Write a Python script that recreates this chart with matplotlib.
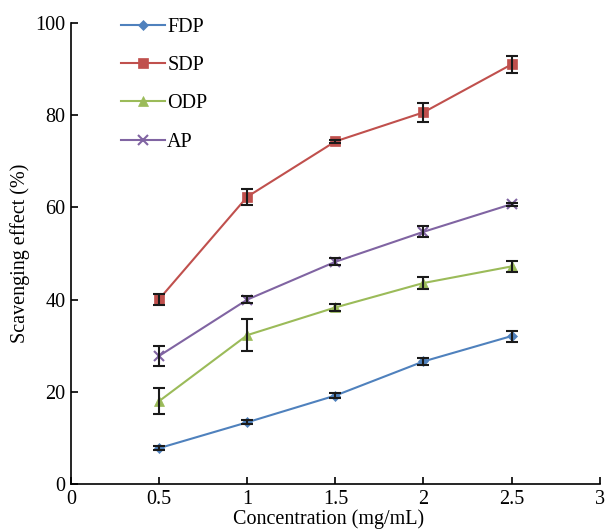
import matplotlib.pyplot as plt
import numpy as np
from matplotlib.ticker import FormatStrFormatter

plt.rcParams['font.family'] = ['Liberation Serif', 'DejaVu Serif']

conc = [0.5, 1, 1.5, 2, 2.5]

fdp = [7.8, 13.4, 19.2, 26.6, 32.1]
fdp_err = [0.4, 0.4, 0.5, 0.7, 1.2]
sdp = [40.1, 62.3, 74.3, 80.6, 91.0]
sdp_err = [1.2, 1.7, 0.3, 2.1, 1.8]
odp = [18.0, 32.3, 38.3, 43.6, 47.2]
odp_err = [2.8, 3.4, 0.8, 1.2, 1.2]
ap = [27.8, 40.0, 48.2, 54.7, 60.7]
ap_err = [2.1, 0.7, 0.8, 1.2, 0.3]

series = [
    ('FDP', fdp, fdp_err, '#4F81BD', 'D', 5),
    ('SDP', sdp, sdp_err, '#C0504D', 's', 6.5),
    ('ODP', odp, odp_err, '#9BBB59', '^', 7),
    ('AP', ap, ap_err, '#8064A2', 'x', 6.5),
]

fs = 14.5

fig = plt.figure(figsize=(6.07, 5.32), dpi=100)
ax = fig.add_axes([0.117, 0.090, 0.871, 0.867])

for name, vals, err, col, mk, ms in series:
    ax.plot(conc, vals, color=col, marker=mk, markersize=ms, lw=1.5,
            markeredgewidth=1.5 if mk == 'x' else 0.5, label=name, zorder=2)
    ax.errorbar(conc, vals, yerr=err, fmt='none', ecolor='#1a1a1a',
                elinewidth=1.5, capsize=4, capthick=1.5, zorder=3)

ax.set_xlim(0, 3)
ax.set_ylim(0, 100)
ax.set_xticks(np.arange(0, 3.01, 0.5))
ax.set_yticks(np.arange(0, 101, 20))
ax.xaxis.set_major_formatter(FormatStrFormatter('%g'))
ax.tick_params(direction='in', length=5, width=1.2, labelsize=fs, pad=4)
for s in ['top', 'right']:
    ax.spines[s].set_visible(False)
for s in ['left', 'bottom']:
    ax.spines[s].set_linewidth(1.2)

ax.set_xlabel('Concentration (mg/mL)', fontsize=fs)
ax.xaxis.set_label_coords(0.487, -0.055)
ax.set_ylabel('Scavenging effect (%)', fontsize=fs, labelpad=4)

ax.legend(loc='upper left', bbox_to_anchor=(0.06, 1.05), frameon=False,
          fontsize=fs, labelspacing=0.95, handlelength=2.2, handletextpad=0.1)

fig.savefig('out.png', dpi=100)
